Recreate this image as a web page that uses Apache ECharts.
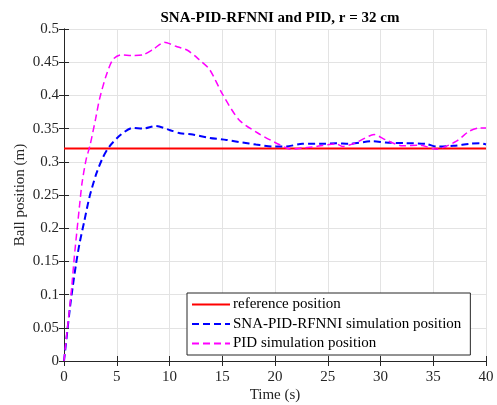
<!DOCTYPE html>
<html>
<head>
<meta charset="utf-8">
<script src="https://cdn.jsdelivr.net/npm/echarts@6/dist/echarts.min.js"></script>
<style>
html, body { margin: 0; padding: 0; background: #fff; }
#chart { width: 497px; height: 405px; }
</style>
</head>
<body>
<div id="chart"></div>
<script>
// 数据
var refTime = [0, 40];
var refPos = [0.32, 0.32];

var snaTime = [0, 0.57, 0.82, 1.14, 1.46, 1.93, 2.4, 3.04, 3.67, 4.3, 5.4, 6.5, 7.5, 8.7, 10, 11, 12.2, 13.8, 15.4, 16.9, 18.2, 19.8, 21, 22.6, 24.8, 25.8, 27, 29.3, 30.5, 32.4, 34.3, 35.3, 36.9, 38.4, 39.4, 40];
var snaPos = [0, 0.081, 0.111, 0.146, 0.176, 0.211, 0.246, 0.281, 0.306, 0.323, 0.341, 0.351, 0.35, 0.354, 0.348, 0.343, 0.341, 0.336, 0.333, 0.329, 0.326, 0.323, 0.323, 0.327, 0.327, 0.328, 0.327, 0.331, 0.329, 0.328, 0.327, 0.323, 0.324, 0.327, 0.328, 0.326];

var pidTime = [0, 0.13, 0.41, 0.73, 0.98, 1.2, 1.46, 1.7, 2.09, 2.47, 3.0, 3.36, 4.0, 4.63, 5.4, 6.5, 7.47, 8.5, 9.5, 10.6, 11.7, 12.8, 13.8, 15.05, 16.6, 18.4, 20.4, 21.5, 22.7, 23.9, 25.8, 26.4, 27.7, 29.4, 30.5, 32.1, 33.7, 35.3, 37.2, 38.4, 39.4, 40];
var pidPos = [0, 0.021, 0.061, 0.111, 0.157, 0.192, 0.232, 0.267, 0.303, 0.325, 0.365, 0.394, 0.43, 0.454, 0.461, 0.46, 0.461, 0.47, 0.48, 0.474, 0.468, 0.454, 0.439, 0.401, 0.363, 0.343, 0.326, 0.319, 0.321, 0.323, 0.327, 0.323, 0.329, 0.341, 0.333, 0.324, 0.325, 0.319, 0.331, 0.346, 0.351, 0.351];

var seriesNames = ['reference position', 'SNA-PID-RFNNI simulation position', 'PID simulation position'];

function zip(xs, ys) {
    var out = [];
    for (var i = 0; i < xs.length; i++) {
        out.push([xs[i], ys[i]]);
    }
    return out;
}

var font = 'Liberation Serif, Times New Roman, serif';
var axisColor = '#262626';
var gridColor = '#e3e3e3';

var myChart = echarts.init(document.getElementById('chart'));

var boxAxis = {
    axisLine: { show: true, lineStyle: { color: axisColor, width: 1 } },
    axisTick: { show: true, inside: true, length: 5, lineStyle: { color: axisColor } },
    axisLabel: { show: false },
    splitLine: { show: false }
};

var option = {
    backgroundColor: '#fff',
    animation: false,
    title: {
        text: 'SNA-PID-RFNNI and PID, r = 32 cm',
        left: 275,
        top: 6,
        textAlign: 'center',
        textStyle: { fontFamily: font, fontSize: 15, fontWeight: 'bold', color: '#000' }
    },
    grid: { left: 64, right: 11, top: 29, bottom: 44, containLabel: false, outerBoundsMode: 'none' },
    legend: {
        orient: 'vertical',
        left: 187,
        top: 293,
        padding: [4, 9, 4, 4],
        itemWidth: 38,
        itemHeight: 14,
        itemGap: 4.5,
        itemStyle: { opacity: 0 },
        backgroundColor: '#fff',
        borderColor: axisColor,
        borderWidth: 1,
        borderRadius: 0,
        data: seriesNames,
        textStyle: { fontFamily: font, fontSize: 15, color: '#000', padding: [0, 0, 0, -2] }
    },
    xAxis: [
        {
            type: 'value',
            min: 0, max: 40, interval: 5,
            name: 'Time (s)',
            nameLocation: 'middle',
            nameGap: 27,
            nameMoveOverlap: false,
            nameTextStyle: { fontFamily: font, fontSize: 15, color: '#262626' },
            axisLine: { show: true, onZero: false, lineStyle: { color: axisColor, width: 1 } },
            axisTick: { show: true, inside: true, length: 5, lineStyle: { color: axisColor } },
            axisLabel: { fontFamily: font, fontSize: 15, color: '#262626', margin: 9 },
            splitLine: { show: true, lineStyle: { color: gridColor, width: 1 } }
        },
        Object.assign({ type: 'value', position: 'top', min: 0, max: 40, interval: 5 }, boxAxis)
    ],
    yAxis: [
        {
            type: 'value',
            min: 0, max: 0.5, interval: 0.05,
            name: 'Ball position (m)',
            nameLocation: 'middle',
            nameGap: 36,
            nameMoveOverlap: false,
            nameTextStyle: { fontFamily: font, fontSize: 15, color: '#262626' },
            axisLine: { show: true, onZero: false, lineStyle: { color: axisColor, width: 1 } },
            axisTick: { show: true, inside: true, length: 5, lineStyle: { color: axisColor } },
            axisLabel: { fontFamily: font, fontSize: 15, color: '#262626', margin: 5 },
            splitLine: { show: true, lineStyle: { color: gridColor, width: 1 } }
        },
        Object.assign({ type: 'value', position: 'right', min: 0, max: 0.5, interval: 0.05 }, boxAxis)
    ],
    series: [
        {
            name: seriesNames[0],
            type: 'line',
            data: zip(refTime, refPos),
            symbol: 'none',
            lineStyle: { color: '#ff0000', width: 2 },
            itemStyle: { color: '#ff0000' },
            z: 3
        },
        {
            name: seriesNames[1],
            type: 'line',
            data: zip(snaTime, snaPos),
            symbol: 'none',
            smooth: 0.25,
            lineStyle: { color: '#0000ff', width: 2, type: [7, 4] },
            itemStyle: { color: '#0000ff' },
            z: 4
        },
        {
            name: seriesNames[2],
            type: 'line',
            data: zip(pidTime, pidPos),
            symbol: 'none',
            smooth: 0.25,
            lineStyle: { color: '#ff00ff', width: 1.5, type: [7, 4] },
            itemStyle: { color: '#ff00ff' },
            z: 5
        }
    ]
};
myChart.setOption(option);
</script>
</body>
</html>
